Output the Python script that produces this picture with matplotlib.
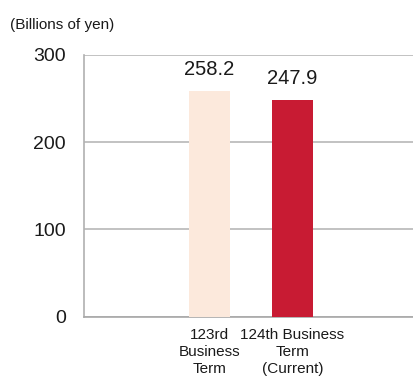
import matplotlib
matplotlib.use("Agg")
import matplotlib.pyplot as plt

categories = ["123rd\nBusiness\nTerm", "124th Business\nTerm\n(Current)"]
values = [258.2, 247.9]
bar_colors = ["#FCE9DC", "#C81B33"]
y_ticks = [0, 100, 200, 300]
unit_label = "(Billions of yen)"

plt.rcParams["font.family"] = ["Liberation Sans", "DejaVu Sans"]

fig = plt.figure(figsize=(4.14, 3.76), dpi=100)
ax = fig.add_axes([84 / 414, 1 - 316.7 / 376, 1 - 84 / 414, (316.7 - 55) / 376])

x = list(range(len(values)))
bars = ax.bar(x, values, width=0.494, color=bar_colors, zorder=3)

ax.set_xlim(-1.512, 2.464)
ax.set_ylim(0, 300)
ax.set_yticks(y_ticks)
ax.set_yticklabels([str(t) for t in y_ticks], fontsize=14, color="#1a1a1a")
ax.set_xticks(x)
ax.set_xticklabels(categories, fontsize=11, color="#1a1a1a", linespacing=1.3)
ax.tick_params(axis="y", length=0, pad=13)
ax.tick_params(axis="x", length=0, pad=8)

ax.grid(axis="y", color="#b8b8b8", linewidth=1.2, zorder=0)
for side in ["top", "right"]:
    ax.spines[side].set_visible(False)
ax.spines["left"].set_color("#b0b0b0")
ax.spines["left"].set_linewidth(1.2)
ax.spines["bottom"].set_color("#a8a8a8")
ax.spines["bottom"].set_linewidth(1.2)

for rect, v in zip(bars, values):
    ax.annotate(f"{v:.1f}", (rect.get_x() + rect.get_width() / 2, v),
                xytext=(0, 9), textcoords="offset points",
                ha="center", va="bottom", fontsize=14.5, color="#1a1a1a")

fig.text(10 / 414, 1 - 25 / 376, unit_label, fontsize=11, color="#1a1a1a",
         ha="left", va="center")

fig.savefig("out.png", dpi=100)
